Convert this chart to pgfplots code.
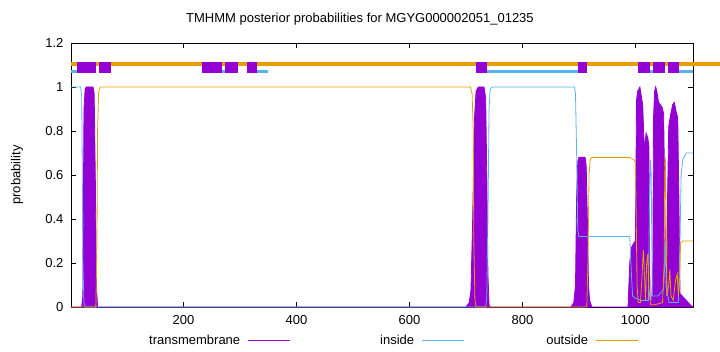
\documentclass[border=0pt]{standalone}
\usepackage{pgfplots}
\pgfplotsset{compat=1.18}
\usepackage{fontspec}
\setmainfont{Liberation Sans}
\definecolor{tm}{HTML}{9400D3}
\definecolor{ins}{HTML}{56B4E9}
\definecolor{outs}{HTML}{E69F00}
\newcommand{\legline}[1]{\hspace{8bp}\textcolor{#1}{\rule[0.3em]{42bp}{1bp}}}
\begin{document}
\begin{tikzpicture}[font=\fontsize{13bp}{15bp}\selectfont]
\useasboundingbox (-71bp,-45bp) rectangle (649bp,307bp);
\begin{axis}[
  scale only axis, width=622bp, height=264bp,
  at={(0,0)}, anchor=south west,
  xmin=1, xmax=1102, ymin=0, ymax=1.2,
  xtick={200,400,600,800,1000},
  ytick={0,0.2,0.4,0.6,0.8,1,1.2},
  yticklabels={0,0.2,0.4,0.6,0.8,1,1.2},
  /pgf/number format/assume math mode=true,
  /pgf/number format/1000 sep={},
  xticklabel style={yshift=-5bp},
  yticklabel style={xshift=-4bp},
  major tick length=5bp,
  tick style={black},
  clip=false,
  title={TMHMM posterior probabilities for MGYG000002051\_01235},
  title style={at={(axis description cs:0.4646,1)}, anchor=base, yshift=15bp},
  ylabel={probability},
  ylabel style={at={(axis description cs:-0.0868,0.5)}, anchor=center},
  legend plot pos=none,
  legend columns=3,
  legend style={at={(axis description cs:0.1013,-0.1288)}, anchor=west, draw=none, fill=none,
    inner sep=0pt, nodes={inner sep=0pt}, /tikz/column sep=18bp},
]
% legend entries
\addlegendimage{empty legend}
\addlegendentry{\makebox[106bp][r]{transmembrane}\legline{tm}}
\addlegendimage{empty legend}
\addlegendentry{\makebox[106bp][r]{inside}\legline{ins}}
\addlegendimage{empty legend}
\addlegendentry{\makebox[106bp][r]{outside}\legline{outs}}
% topology bar
\addplot[outs, line width=4bp, forget plot] coordinates {(1,1.105) (1150,1.105)};
\addplot[ins, line width=3bp, forget plot] coordinates {(1,1.071) (11,1.071)};
\addplot[ins, line width=3bp, forget plot] coordinates {(269,1.071) (273,1.071)};
\addplot[ins, line width=3bp, forget plot] coordinates {(331,1.071) (350,1.071)};
\addplot[ins, line width=3bp, forget plot] coordinates {(738,1.071) (899,1.071)};
\addplot[ins, line width=3bp, forget plot] coordinates {(1025,1.071) (1032,1.071)};
\addplot[ins, line width=3bp, forget plot] coordinates {(1078,1.071) (1102,1.071)};
\addplot[tm, line width=11.5bp, forget plot] coordinates {(11,1.088) (46,1.088)};
\addplot[tm, line width=11.5bp, forget plot] coordinates {(50,1.088) (71,1.088)};
\addplot[tm, line width=11.5bp, forget plot] coordinates {(232,1.088) (269,1.088)};
\addplot[tm, line width=11.5bp, forget plot] coordinates {(273,1.088) (296,1.088)};
\addplot[tm, line width=11.5bp, forget plot] coordinates {(312,1.088) (331,1.088)};
\addplot[tm, line width=11.5bp, forget plot] coordinates {(717,1.088) (738,1.088)};
\addplot[tm, line width=11.5bp, forget plot] coordinates {(899,1.088) (915,1.088)};
\addplot[tm, line width=11.5bp, forget plot] coordinates {(1004,1.088) (1025,1.088)};
\addplot[tm, line width=11.5bp, forget plot] coordinates {(1032,1.088) (1053,1.088)};
\addplot[tm, line width=11.5bp, forget plot] coordinates {(1057,1.088) (1078,1.088)};
% transmembrane
\addplot[draw=tm, fill=tm, line width=0.8bp, forget plot] coordinates {
(1,0) (20,0) (22,0.05) (23,0.5) (24,0.9) (26,0.99) (28,1.0) (40,1.0) (42,0.97) (44,0.6) (46,0.1) (48,0)
(700,0) (706,0.02) (709,0.08) (712,0.4) (715,0.85) (718,0.98) (722,1.0) (732,1.0) (735,0.95) (737,0.6) (739,0.15) (741,0.01) (743,0)
(886,0) (891,0.02) (894,0.1) (896,0.5) (898,0.66) (900,0.68) (911,0.68) (913,0.64) (915,0.4) (917,0.1) (919,0.03) (923,0)
(987,0) (990,0.2) (993,0.27) (997,0.29) (1000,0.3) (1001,0.6) (1002,0.94) (1004,0.98) (1008,1.0) (1011,0.95) (1013,0.92) (1015,0.77) (1016,0.72) (1019,0.79) (1022,0.77) (1024,0.73) (1025,0.3) (1026,0.03) (1029,0.03) (1031,0.2) (1032,0.85) (1034,0.98) (1036,1.0) (1038,0.98) (1041,0.93) (1047,0.91) (1050,0.88) (1052,0.5) (1054,0.03) (1056,0.05) (1057,0.5) (1059,0.82) (1062,0.87) (1066,0.92) (1069,0.93) (1072,0.89) (1075,0.86) (1077,0.5) (1079,0.06) (1083,0.05) (1090,0.03) (1097,0.01) (1102,0)
} \closedcycle;
% inside
\addplot[ins, line width=0.8bp, forget plot] coordinates {
(1,1) (18,1) (20,0.96) (21,0.6) (22,0.2) (24,0.02) (26,0) (735,0) (737,0.05) (739,0.4) (741,0.9) (743,0.99) (746,1) (892,1) (894,0.97) (896,0.7) (898,0.35) (900,0.32) (990,0.32) (992,0.2) (995,0.05) (1000,0.04) (1010,0.03) (1023,0.03) (1025,0.5) (1027,0.67) (1028,0.6) (1030,0.05) (1040,0.05) (1050,0.08) (1052,0.2) (1053,0.3) (1055,0.08) (1060,0.02) (1076,0.02) (1079,0.3) (1081,0.6) (1084,0.67) (1090,0.7) (1102,0.7)
};
% outside
\addplot[outs, line width=0.8bp, forget plot] coordinates {
(1,0) (45,0) (47,0.3) (48,0.8) (50,0.98) (53,1) (708,1) (711,0.97) (713,0.8) (714,0.3) (716,0.03) (718,0) (914,0) (916,0.2) (918,0.6) (920,0.67) (923,0.68) (990,0.68) (997,0.67) (1000,0.66) (1001,0.5) (1003,0.1) (1005,0.02) (1009,0.02) (1012,0.15) (1014,0.26) (1016,0.15) (1018,0.03) (1020,0.2) (1022,0.24) (1024,0.08) (1027,0.01) (1034,0.01) (1048,0.02) (1051,0.2) (1052,0.6) (1053,0.68) (1054,0.5) (1056,0.05) (1059,0.1) (1061,0.17) (1063,0.05) (1067,0.03) (1071,0.12) (1074,0.15) (1076,0.05) (1078,0.1) (1080,0.29) (1084,0.3) (1102,0.3)
};
\end{axis}
\end{tikzpicture}
\end{document}
